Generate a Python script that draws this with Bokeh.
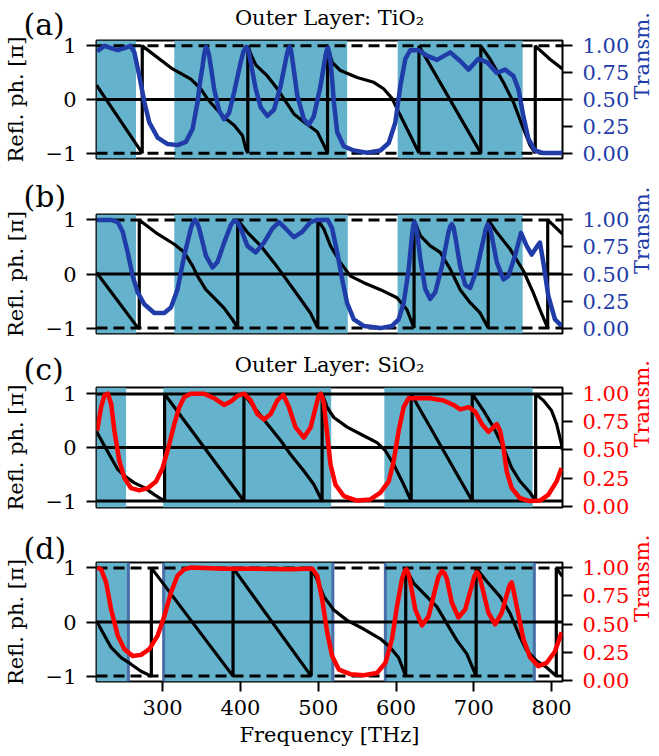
from math import pi
from bokeh.plotting import figure
from bokeh.models import (Range1d, LinearAxis, FixedTicker, BoxAnnotation, Span, Title,
                          PrintfTickFormatter, CustomJSTickFormatter)
from bokeh.layouts import column
from bokeh.embed import file_html
from bokeh.resources import INLINE

FONT = "DejaVu Serif"
SHADE = "#64b2cb"
EDGE = "#4a6ea8"
BLUE = "#1f3ca8"
RED = "#ff0000"

freq_ticks = [300, 400, 500, 600, 700, 800]
phase_ticks = [-1, 0, 1]
trans_ticks = [0.0, 0.25, 0.5, 0.75, 1.0]

panel_letters = ["(a)", "(b)", "(c)", "(d)"]
titles = ["Outer Layer: TiO\u2082", "Outer Layer: SiO\u2082"]
x_label = "Frequency [THz]"
y_label = "Refl. ph. [\u03c0]"
y2_label = "Transm."

# shaded bands (THz)
a_band_left = [215, 315.0, 602.1]
a_band_right = [265.8, 537.2, 762.8]
b_band_left = [215, 315.0, 602.0]
b_band_right = [265.8, 538.0, 762.8]
c_band_left = [215, 300.9, 585.0]
c_band_right = [253.0, 516.7, 775.6]
d_band_left = [215, 301.3, 586.3]
d_band_right = [256.0, 518.8, 777.8]

# reflection phase [pi]
a_phase_f = [215, 273.8, 273.8, 312.8, 336.3, 349, 357.7, 370.5, 379, 391.9, 402.6, 406.8, 409.5, 409.5,
             414, 420, 434.6, 447.4, 456, 468.8, 481.6, 498.7, 507.3, 512, 512, 518, 528.6, 550, 571.4,
             584, 594.9, 605.6, 618.4, 629.5, 629.5, 709, 709, 721, 738, 750.9, 763.7, 772.2, 779, 779,
             797.9, 814]
a_phase_v = [0.27, -1, 1, 0.57, 0.38, 0.2, 0.01, -0.2, -0.33, -0.48, -0.67, -0.91, -1, 1,
             0.82, 0.64, 0.44, 0.2, 0.01, -0.27, -0.42, -0.6, -0.85, -1, 1, 0.69, 0.54, 0.41, 0.32,
             0.2, 0.02, -0.3, -0.67, -1, 1, -1, 1, 0.75, 0.32, -0.05, -0.54, -0.85, -1, 1,
             0.75, 0.57]

b_phase_f = [215, 268.5, 270, 270, 293.6, 315, 327.8, 338.5, 344.9, 355.6, 366.2, 379, 389.7, 396.5, 396.5,
             409, 426, 443.2, 456, 473, 490, 499.5, 499.5, 507.3, 515.8, 528.6, 541.5, 558.5, 579.9,
             601.3, 614.1, 623.2, 623.2, 631.2, 644, 656.8, 669.7, 682.5, 695.3, 708.1, 718.5, 718.5,
             729.5, 746.6, 763.7, 776.5, 785, 795, 795, 814]
b_phase_v = [0.03, -1, -1, 1, 0.74, 0.55, 0.4, 0.15, -0.04, -0.29, -0.44, -0.63, -0.84, -1, 1,
             0.77, 0.52, 0.21, -0.04, -0.38, -0.72, -1, 1, 0.83, 0.52, 0.21, -0.04, -0.16, -0.29,
             -0.44, -0.66, -1, 1, 0.71, 0.52, 0.4, 0.09, -0.29, -0.53, -0.72, -1, 1,
             0.77, 0.46, 0.06, -0.35, -0.66, -1, 1, 0.74]

c_phase_f = [215, 225.2, 233.8, 242.3, 250.9, 263.7, 276.5, 289.3, 302.5, 302.5, 404.5, 404.5, 417.5,
             434.6, 451.7, 464.5, 481.6, 494.4, 505, 505, 511.5, 520.1, 537.2, 558.5, 575.6, 586.3,
             596.9, 609.8, 619.5, 619.5, 698, 698, 712.4, 725.2, 738, 748.7, 759.4, 772.2, 779.5,
             779.5, 789.3, 799.9, 806.4, 812.8, 814]
c_phase_v = [0.3, 0.03, -0.19, -0.41, -0.53, -0.66, -0.75, -0.88, -1, 1, -1, 1, 0.75,
             0.44, 0.13, -0.13, -0.44, -0.69, -1, 1, 0.75, 0.56, 0.38, 0.22, 0.09, -0.06,
             -0.31, -0.69, -1, 1, -1, 1, 0.69, 0.38, 0, -0.38, -0.63, -0.84, -1,
             1, 0.88, 0.69, 0.44, 0.06, -0.05]

d_phase_f = [215, 225.2, 233.8, 246.6, 259.4, 272.2, 285.5, 285.5, 390.5, 390.5, 491, 491, 498.7, 507.3,
             520.1, 537.2, 558.5, 579.9, 592.7, 603.4, 612.5, 612.5, 622.6, 635.5, 652.6, 665.4, 678.2,
             691, 703, 703, 716.7, 733.8, 746.6, 759.4, 768, 780.8, 793.6, 806, 806, 814]
d_phase_v = [0.02, -0.25, -0.47, -0.66, -0.78, -0.91, -1, 1, -1, 1, -1, 1, 0.78, 0.47,
             0.22, 0.03, -0.13, -0.31, -0.47, -0.66, -1, 1, 0.72, 0.53, 0.28, -0.03, -0.34,
             -0.59, -1, 1, 0.75, 0.47, 0.16, -0.28, -0.53, -0.72, -0.84, -1, 1, 0.84]

# transmission
a_trans_f = [215.8, 225.2, 233.8, 242.3, 250.9, 258.5, 263.7, 270.1, 276.5, 282.9, 293.6, 306.4, 319.2,
             329.9, 338.5, 344.9, 348, 351.3, 353.5, 355.6, 357.5, 359.8, 363, 366.2, 372.6, 379.1,
             385.5, 391.9, 400.4, 404, 407.7, 410.5, 413.2, 416.5, 419.7, 426.1, 434.6, 443.2, 451.7,
             460.3, 461.8, 463.2, 465, 466.7, 473.1, 481.6, 488, 494.4, 503, 509.4, 511, 512.4, 514,
             515.8, 518, 520.1, 524.4, 532.9, 545.7, 562.8, 579.9, 590.6, 599.1, 605.6, 612, 618.4,
             629.1, 639.7, 652.6, 669.7, 682.5, 693.2, 706, 716.7, 729.5, 740.2, 750.9, 757.3, 763.7,
             770.1, 778.6, 789.3, 815]
a_trans_v = [0.95, 1.0, 0.98, 0.96, 0.98, 1.0, 0.94, 0.72, 0.48, 0.29, 0.15, 0.09, 0.08,
             0.11, 0.23, 0.48, 0.66, 0.81, 0.93, 0.99, 0.97, 0.91, 0.76, 0.6, 0.4, 0.32,
             0.38, 0.57, 0.85, 0.95, 0.99, 0.95, 0.85, 0.72, 0.6, 0.43, 0.35, 0.41, 0.63,
             0.94, 0.975, 0.99, 0.96, 0.88, 0.54, 0.32, 0.27, 0.35, 0.63, 0.91, 0.96, 0.98, 0.94,
             0.85, 0.68, 0.48, 0.2, 0.07, 0.03, 0.01, 0.03, 0.1, 0.29, 0.63, 0.88, 0.96,
             0.96, 0.91, 0.87, 0.94, 0.86, 0.78, 0.88, 0.85, 0.75, 0.78, 0.72, 0.6, 0.35,
             0.14, 0.03, 0.006, 0.006]

b_trans_f = [215.8, 233.8, 242.3, 248.7, 255.1, 261.5, 268, 276.5, 289.3, 302.1, 310.7, 319.2, 327.8,
             336.3, 339, 341.9, 344.5, 347, 355.6, 364.1, 370.5, 379.1, 387.6, 391, 394, 397, 400.4,
             409, 419.7, 430.3, 441, 449.6, 458.1, 468.8, 479.5, 490.2, 498.7, 512.4, 517.9, 524.4,
             530.8, 537.2, 545.7, 558.5, 579.9, 594.9, 603.4, 609.8, 616.2, 620.5, 622, 623.5, 625,
             626.9, 631.2, 637.6, 644, 650.4, 659, 667.5, 669.7, 671.8, 674, 676.1, 682.5, 688.9,
             695.3, 703.8, 712.4, 715.5, 718, 720.5, 723.1, 729.5, 738, 744.4, 753, 760.7, 767.9,
             774.4, 780.8, 785, 789.3, 795.7, 804.3, 812.8]
b_trans_v = [1.0, 1.0, 0.98, 0.89, 0.7, 0.48, 0.33, 0.22, 0.14, 0.14, 0.19, 0.36, 0.67,
             0.92, 0.975, 1.0, 0.97, 0.92, 0.67, 0.56, 0.61, 0.79, 0.95, 0.985, 0.99, 0.97, 0.92,
             0.76, 0.7, 0.79, 0.92, 0.98, 0.92, 0.84, 0.89, 0.98, 1.0, 1.0, 0.92, 0.7,
             0.45, 0.23, 0.08, 0.02, 0.0, 0.02, 0.08, 0.23, 0.54, 0.85, 0.94, 0.98, 0.95,
             0.89, 0.64, 0.36, 0.27, 0.33, 0.57, 0.89, 0.94, 0.96, 0.93, 0.85, 0.57, 0.4,
             0.37, 0.54, 0.82, 0.92, 0.96, 0.93, 0.85, 0.61, 0.45, 0.48, 0.67, 0.88, 0.76,
             0.68, 0.75, 0.79, 0.61, 0.3, 0.08, 0.02]

c_trans_f = [215.8, 220.9, 225.2, 229.5, 233.8, 238, 244.4, 250.9, 259.4, 270.1, 280.8, 291.5, 300,
             308.5, 315, 321.4, 327.8, 336.3, 353.4, 366.2, 379.1, 387.6, 396.2, 404.7, 413.2, 421.8,
             430.3, 438.9, 447.4, 455.1, 462.4, 470.9, 481.6, 490.2, 497.9, 500.5, 503, 505.2, 507.3,
             511.5, 515.8, 522.2, 532.9, 550, 567.1, 579.9, 590.6, 597, 603.4, 609.8, 616.2, 626.9,
             644, 661.1, 673.9, 682.5, 693.2, 701.7, 710.3, 718.8, 725.2, 729.5, 733.8, 738, 742.3,
             748.7, 759.4, 772.2, 785, 795.7, 806.4, 812.8]
c_trans_v = [0.67, 0.88, 0.985, 1.0, 0.91, 0.67, 0.4, 0.25, 0.16, 0.14, 0.16, 0.22, 0.34,
             0.55, 0.73, 0.88, 0.97, 1.0, 1.0, 0.96, 0.9, 0.93, 0.98, 1.0, 0.94, 0.82,
             0.77, 0.82, 0.94, 0.99, 0.88, 0.7, 0.61, 0.7, 0.91, 0.98, 1.0, 0.97, 0.91,
             0.64, 0.37, 0.19, 0.09, 0.05, 0.06, 0.12, 0.22, 0.4, 0.67, 0.88, 0.96, 0.96,
             0.96, 0.94, 0.9, 0.86, 0.88, 0.84, 0.73, 0.66, 0.7, 0.73, 0.67, 0.52, 0.31,
             0.16, 0.07, 0.045, 0.05, 0.1, 0.22, 0.34]

d_trans_f = [215.8, 220.9, 227.4, 233.8, 242.3, 250.9, 261.5, 272.2, 282.9, 293.6, 302.1, 310.7, 319.2,
             327.8, 336.3, 379.1, 421.8, 464.5, 481.6, 492.3, 498.7, 505.1, 511.5, 517.9, 526.5, 541.5,
             558.5, 575.6, 586.3, 594.9, 601.3, 607.7, 610.5, 613.2, 615.8, 618.4, 624.8, 633.3, 641.9,
             650.4, 654.5, 659, 662.2, 665.4, 671.8, 680.3, 688.9, 697.4, 700.5, 703.8, 707, 710.3,
             718.8, 727.4, 735.9, 744.4, 746.5, 748.7, 751, 755.1, 763.7, 772.2, 782.9, 793.6, 804.3,
             812.8]
d_trans_v = [1.0, 0.985, 0.87, 0.63, 0.4, 0.28, 0.22, 0.23, 0.28, 0.4, 0.57, 0.78, 0.93,
             0.985, 1.0, 0.99, 0.99, 0.985, 0.99, 0.99, 0.93, 0.72, 0.43, 0.22, 0.1, 0.06,
             0.05, 0.07, 0.16, 0.37, 0.66, 0.9, 0.96, 0.985, 0.95, 0.87, 0.63, 0.49, 0.57,
             0.81, 0.92, 0.97, 0.95, 0.9, 0.69, 0.56, 0.63, 0.84, 0.92, 0.96, 0.93, 0.84,
             0.6, 0.5, 0.6, 0.81, 0.85, 0.87, 0.8, 0.66, 0.37, 0.21, 0.13, 0.16, 0.26,
             0.43]

FW = 466
X_RANGE = (215, 814)


def style_axis(ax, label_color="black"):
    ax.minor_tick_line_color = None
    ax.major_tick_out = 10
    ax.major_tick_in = 0
    ax.major_tick_line_width = 2
    ax.major_tick_line_color = "black"
    ax.axis_line_color = None
    ax.major_label_text_font = FONT
    ax.major_label_text_font_size = "21px"
    ax.major_label_text_color = label_color
    ax.major_label_standoff = 10
    ax.axis_label_text_font = FONT
    ax.axis_label_text_font_size = "21px"
    ax.axis_label_text_font_style = "normal"
    ax.axis_label_text_color = label_color


def make_panel(phase_f, phase_v, trans_f, trans_v, color, band_l, band_r, letter, letter_sd,
               fh, yr, tr, top, bottom, solid_pm1=False, edges=False, show_x=False,
               title=None, title_sd=0):
    p = figure(frame_width=FW, frame_height=fh, x_range=Range1d(*X_RANGE), y_range=Range1d(-yr, yr),
               output_backend="svg", toolbar_location=None, title=None,
               min_border_left=96, min_border_right=97, min_border_top=top, min_border_bottom=bottom)
    p.background_fill_color = "white"
    p.border_fill_color = "white"
    p.outline_line_color = "black"
    p.outline_line_width = 2
    p.outline_line_alpha = 1
    p.xgrid.visible = False
    p.ygrid.visible = False

    for l, r in zip(band_l, band_r):
        p.add_layout(BoxAnnotation(left=l, right=r, fill_color=SHADE, fill_alpha=1,
                                   line_color=None, level="underlay"))
    if edges:
        for v in band_l[1:] + band_r:
            p.add_layout(Span(location=v, dimension="height", line_color=EDGE, line_width=3,
                              level="underlay"))
    p.add_layout(Span(location=0, dimension="width", line_color="black", line_width=3,
                      level="underlay"))
    for v in (-1, 1):
        p.add_layout(Span(location=v, dimension="width", line_color="black", line_width=3,
                          line_dash="solid" if solid_pm1 else "11 6", level="underlay"))

    p.line(phase_f, phase_v, line_color="black", line_width=3.2)
    p.extra_y_ranges = {"T": Range1d(*tr)}
    p.line(trans_f, trans_v, line_color=color, line_width=4.5, y_range_name="T",
           line_join="round")

    ya = p.yaxis[0]
    ya.ticker = FixedTicker(ticks=phase_ticks)
    ya.formatter = CustomJSTickFormatter(
        code="return tick < 0 ? '\u2212' + Math.abs(tick) : String(tick);")
    style_axis(ya)
    ya.axis_label = y_label
    ya.axis_label_standoff = 15

    ra = LinearAxis(y_range_name="T", ticker=FixedTicker(ticks=trans_ticks),
                    formatter=PrintfTickFormatter(format="%.2f"))
    style_axis(ra, color)
    ra.axis_label = y2_label
    ra.axis_label_standoff = 10
    if "axis_label_orientation" in ra.properties():
        ra.axis_label_orientation = pi / 2
    p.add_layout(ra, "right")

    xa = p.xaxis[0]
    if show_x:
        xa.ticker = FixedTicker(ticks=freq_ticks)
        style_axis(xa)
        xa.major_label_standoff = 8
        xa.axis_label = x_label
        xa.axis_label_standoff = 5
    else:
        xa.visible = False

    p.add_layout(Title(text=letter, align="left", offset=-73, vertical_align="bottom",
                       standoff=letter_sd, text_font=FONT, text_font_size="30px",
                       text_font_style="normal", text_color="black"), "above")
    if title:
        p.add_layout(Title(text=title, align="center", vertical_align="bottom",
                           standoff=title_sd, text_font=FONT, text_font_size="21px",
                           text_font_style="normal", text_color="black"), "above")
    return p


pa = make_panel(a_phase_f, a_phase_v, a_trans_f, a_trans_v, BLUE, a_band_left, a_band_right,
                panel_letters[0], -3, 118, 1.1, (-0.044, 1.05), 40, 17,
                title=titles[0], title_sd=-46)
pb = make_panel(b_phase_f, b_phase_v, b_trans_f, b_trans_v, BLUE, b_band_left, b_band_right,
                panel_letters[1], 2, 119, 1.1, (-0.05, 1.05), 39, 16)
pc = make_panel(c_phase_f, c_phase_v, c_trans_f, c_trans_v, RED, c_band_left, c_band_right,
                panel_letters[2], 1, 120, 1.12, (-0.012, 1.055), 38, 22, solid_pm1=True,
                title=titles[1], title_sd=-54)
pd = make_panel(d_phase_f, d_phase_v, d_trans_f, d_trans_v, RED, d_band_left, d_band_right,
                panel_letters[3], -6, 119, 1.1, (-0.005, 1.045), 33, 75, edges=True, show_x=True)

layout = column(pa, pb, pc, pd, spacing=0)
open("out.html", "w").write(file_html(layout, INLINE))
